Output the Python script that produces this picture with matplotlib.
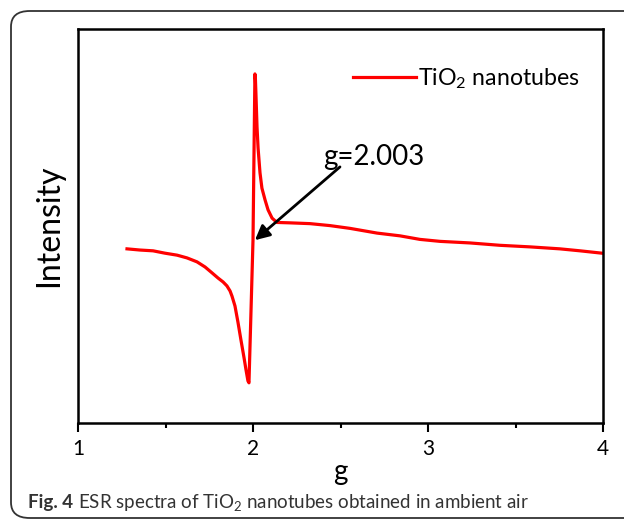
import matplotlib
matplotlib.use('Agg')
import matplotlib.pyplot as plt
from matplotlib.patches import FancyBboxPatch
from matplotlib.ticker import MultipleLocator

plt.rcParams['font.family'] = ['Lato', 'DejaVu Sans']
plt.rcParams['mathtext.fontset'] = 'custom'
plt.rcParams['mathtext.rm'] = 'Lato'
plt.rcParams['mathtext.it'] = 'Lato:italic'
plt.rcParams['mathtext.bf'] = 'Lato:bold'

# ESR spectrum (g value, intensity in arbitrary units)
g_vals = [1.280, 1.354, 1.429, 1.497, 1.566, 1.623, 1.680, 1.726, 1.766, 1.800,
          1.829, 1.851, 1.869, 1.880, 1.897, 1.914, 1.931, 1.949, 1.960, 1.971,
          1.977, 2.000, 2.011, 2.014, 2.017, 2.023, 2.029, 2.040, 2.051, 2.069,
          2.086, 2.109, 2.137, 2.211, 2.326, 2.440, 2.554, 2.709, 2.840, 2.954,
          3.069, 3.240, 3.411, 3.583, 3.754, 3.869, 3.994]
intensity = [44.2, 43.9, 43.7, 43.1, 42.6, 41.9, 40.9, 39.6, 38.1, 36.8,
             35.8, 34.8, 33.5, 32.2, 29.7, 25.6, 21.1, 16.5, 13.5, 10.7,
             10.2, 46.4, 88.6, 87.1, 83.2, 75.1, 69.8, 63.5, 59.6, 56.6,
             54.1, 52.0, 50.9, 50.8, 50.6, 50.1, 49.4, 48.2, 47.5, 46.6,
             46.1, 45.7, 45.1, 44.7, 44.2, 43.7, 43.1]
x_ticks = [1, 2, 3, 4]
g_mark = 2.003
series_name = 'TiO$_2$ nanotubes'

fig = plt.figure(figsize=(6.24, 5.2), dpi=100)

# rounded frame around the whole figure
frame = FancyBboxPatch((11/624, 2/520), 640/624, 507/520,
                       boxstyle='round,pad=0,rounding_size=0.03',
                       transform=fig.transFigure, fill=False,
                       ec='#333333', lw=1.3, clip_on=False)
fig.patches.append(frame)

ax = fig.add_axes([78/624, 1 - 423/520, 525/624, 394/520])
ax.plot(g_vals, intensity, color='#ff0000', lw=2.3, label=series_name,
        solid_joinstyle='round')

ax.set_xlim(1, 4)
ax.set_ylim(0, 100)
ax.set_xticks(x_ticks)
ax.xaxis.set_minor_locator(MultipleLocator(0.5))
ax.set_yticks([])
for s in ax.spines.values():
    s.set_linewidth(1.8)
ax.tick_params(axis='x', which='major', direction='out', length=6.5, width=1.5,
               labelsize=15, pad=5)
ax.tick_params(axis='x', which='minor', direction='out', length=3.6, width=1.5)
ax.set_xlabel('g', fontsize=20, labelpad=0)
ax.set_ylabel('Intensity', fontsize=23, labelpad=10)

# arrow pointing at the resonance
ax.annotate('', xy=(2.011, 46.4), xytext=(2.497, 65.0),
            arrowprops=dict(arrowstyle='-|>', color='black', lw=2,
                            mutation_scale=22, shrinkA=0, shrinkB=0))
ax.text(2.4, 65.5, 'g=%.3f' % g_mark, fontsize=20, va='baseline')

ax.legend(loc='upper left', bbox_to_anchor=(0.524, 0.905), frameon=False,
          fontsize=16.7, handlelength=2.7, handletextpad=0.1,
          borderpad=0, borderaxespad=0)

# caption
cap_y = 1 - 508/520
t1 = fig.text(28/624, cap_y, 'Fig. 4', fontsize=13.5, fontweight='bold',
              color='#333333', va='baseline')
fig.canvas.draw()
bb = t1.get_window_extent()
fig.text((bb.x1 + 5)/624, cap_y,
         'ESR spectra of TiO$_2$ nanotubes obtained in ambient air',
         fontsize=13.5, color='#333333', va='baseline')

fig.savefig('out.png', dpi=100)
